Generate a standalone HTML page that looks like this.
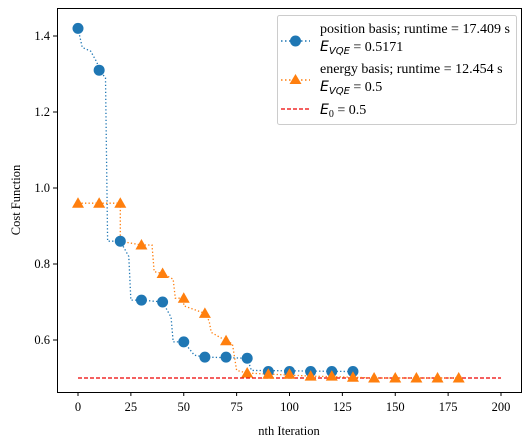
<!DOCTYPE html>
<html><head><meta charset="utf-8"><style>
body{margin:0;background:#fff;}
svg{display:block;font-family:"Liberation Serif",serif;}
</style></head><body>
<svg id="chart" width="531" height="448" viewBox="0 0 531 448">
<rect x="0" y="0" width="531" height="448" fill="#fff"/>
<g id="plot"></g>
<rect x="57.5" y="8.5" width="464" height="384" fill="none" stroke="#000" stroke-width="1"/>
<g id="xt"></g><g id="yt"></g>
<text x="289" y="435" font-size="12.5" text-anchor="middle">nth Iteration</text>
<text x="20" y="200" font-size="12.5" text-anchor="middle" transform="rotate(-90 20 200)">Cost Function</text>
<g>
<rect x="277.5" y="15.5" width="239" height="109" rx="2" fill="#fff" fill-opacity="0.8" stroke="#ccc"/>
<g>
<line x1="281" y1="41" x2="310" y2="41" stroke="#1f77b4" stroke-dasharray="1.5,2.5" stroke-width="1.5"/>
<circle cx="295.5" cy="41" r="5.5" fill="#1f77b4"/>
<text x="320" y="33" font-size="14">position basis; runtime = 17.409 s</text>
<text x="320" y="51" font-size="14"><tspan font-family="DejaVu Sans,sans-serif" font-style="italic">E</tspan><tspan font-family="DejaVu Sans,sans-serif" font-style="italic" font-size="10" dy="3">VQE</tspan><tspan dy="-3"> = 0.5171</tspan></text>
</g>
<g>
<line x1="281" y1="80" x2="310" y2="80" stroke="#ff7f0e" stroke-dasharray="1.5,2.5" stroke-width="1.5"/>
<polygon points="295.5,74 301.5,84 289.5,84" fill="#ff7f0e"/>
<text x="320" y="73" font-size="14">energy basis; runtime = 12.454 s</text>
<text x="320" y="91" font-size="14"><tspan font-family="DejaVu Sans,sans-serif" font-style="italic">E</tspan><tspan font-family="DejaVu Sans,sans-serif" font-style="italic" font-size="10" dy="3">VQE</tspan><tspan dy="-3"> = 0.5</tspan></text>
</g>
<g>
<line x1="281" y1="109" x2="310" y2="109" stroke="#e00" stroke-dasharray="4,2" stroke-width="1.2"/>
<text x="320" y="114" font-size="14"><tspan font-family="DejaVu Sans,sans-serif" font-style="italic">E</tspan><tspan font-size="10" dy="3">0</tspan><tspan dy="-3"> = 0.5</tspan></text>
</g>
</g>
</svg>
<script>
const xTicks=[0,25,50,75,100,125,150,175,200];
const yTicks=[0.6,0.8,1.0,1.2,1.4];
const blueIter=[0,10,20,30,40,50,60,70,80,90,100,110,120,130];
const blueVal=[1.42,1.31,0.86,0.705,0.70,0.595,0.555,0.555,0.552,0.517,0.517,0.517,0.517,0.517];
const orangeIter=[0,10,20,30,40,50,60,70,80,90,100,110,120,130,140,150,160,170,180];
const orangeVal=[0.96,0.96,0.96,0.85,0.775,0.71,0.67,0.598,0.513,0.51,0.51,0.505,0.505,0.502,0.5,0.5,0.5,0.5,0.5];
const blueTraceX=[0,2,6,9,10,13,14,20,22,24,25,30,40,44,45,50,55,60,80,82,130];
const blueTraceY=[1.42,1.37,1.36,1.33,1.31,1.29,0.86,0.86,0.84,0.82,0.705,0.705,0.70,0.66,0.595,0.595,0.56,0.555,0.552,0.52,0.517];
const orangeTraceX=[0,20,20,30,35,36,40,45,46,50,50,60,62,63,70,73,75,80,110,130,140,180];
const orangeTraceY=[0.96,0.96,0.86,0.85,0.85,0.78,0.775,0.76,0.71,0.71,0.69,0.67,0.65,0.62,0.598,0.59,0.52,0.513,0.505,0.502,0.5,0.5];
const e0=0.5, e0Range=[0,200];
const X=v=>78+v*(423/200);
const Y=v=>340-(v-0.6)*380;
const NS='http://www.w3.org/2000/svg';
function mk(t,a,p){const e=document.createElementNS(NS,t);for(const k in a)e.setAttribute(k,a[k]);p.appendChild(e);return e;}
const plot=document.getElementById('plot'),xt=document.getElementById('xt'),yt=document.getElementById('yt');
xTicks.forEach(v=>{
 const l=mk('line',{x1:X(v),x2:X(v),y1:392,y2:396,stroke:'#000'},xt);
 
 
 const t=mk('text',{x:X(v),y:411,'font-size':12.5,'text-anchor':'middle'},xt);t.textContent=v;
 
 
});
yTicks.forEach(v=>{
 const l=mk('line',{x1:53,x2:57,y1:Y(v),y2:Y(v),stroke:'#000'},yt);
 
 
 const t=mk('text',{x:50,y:Y(v)+4,'font-size':12.5,'text-anchor':'end'},yt);t.textContent=v.toFixed(1);
 
 
});
const e0l=mk('line',{x1:X(e0Range[0]),x2:X(e0Range[1]),y1:Y(e0),y2:Y(e0),stroke:'#e00','stroke-width':1.2,'stroke-dasharray':'4,2'},plot);


const bp=mk('polyline',{points:blueTraceX.map((x,i)=>X(x)+','+Y(blueTraceY[i])).join(' '),fill:'none',stroke:'#1f77b4','stroke-width':1.3,'stroke-dasharray':'1.3,2.2'},plot);


const op=mk('polyline',{points:orangeTraceX.map((x,i)=>X(x)+','+Y(orangeTraceY[i])).join(' '),fill:'none',stroke:'#ff7f0e','stroke-width':1.3,'stroke-dasharray':'1.3,2.2'},plot);


blueIter.forEach((x,i)=>{
 const c=mk('circle',{cx:X(x),cy:Y(blueVal[i]),r:5.5,fill:'#1f77b4'},plot);
 
 
});
orangeIter.forEach((x,i)=>{
 const cx=X(x),cy=Y(orangeVal[i]);
 const p=mk('polygon',{points:`${cx},${cy-6} ${cx+6},${cy+4.5} ${cx-6},${cy+4.5}`,fill:'#ff7f0e'},plot);
 
 
});
</script>
</body></html>
